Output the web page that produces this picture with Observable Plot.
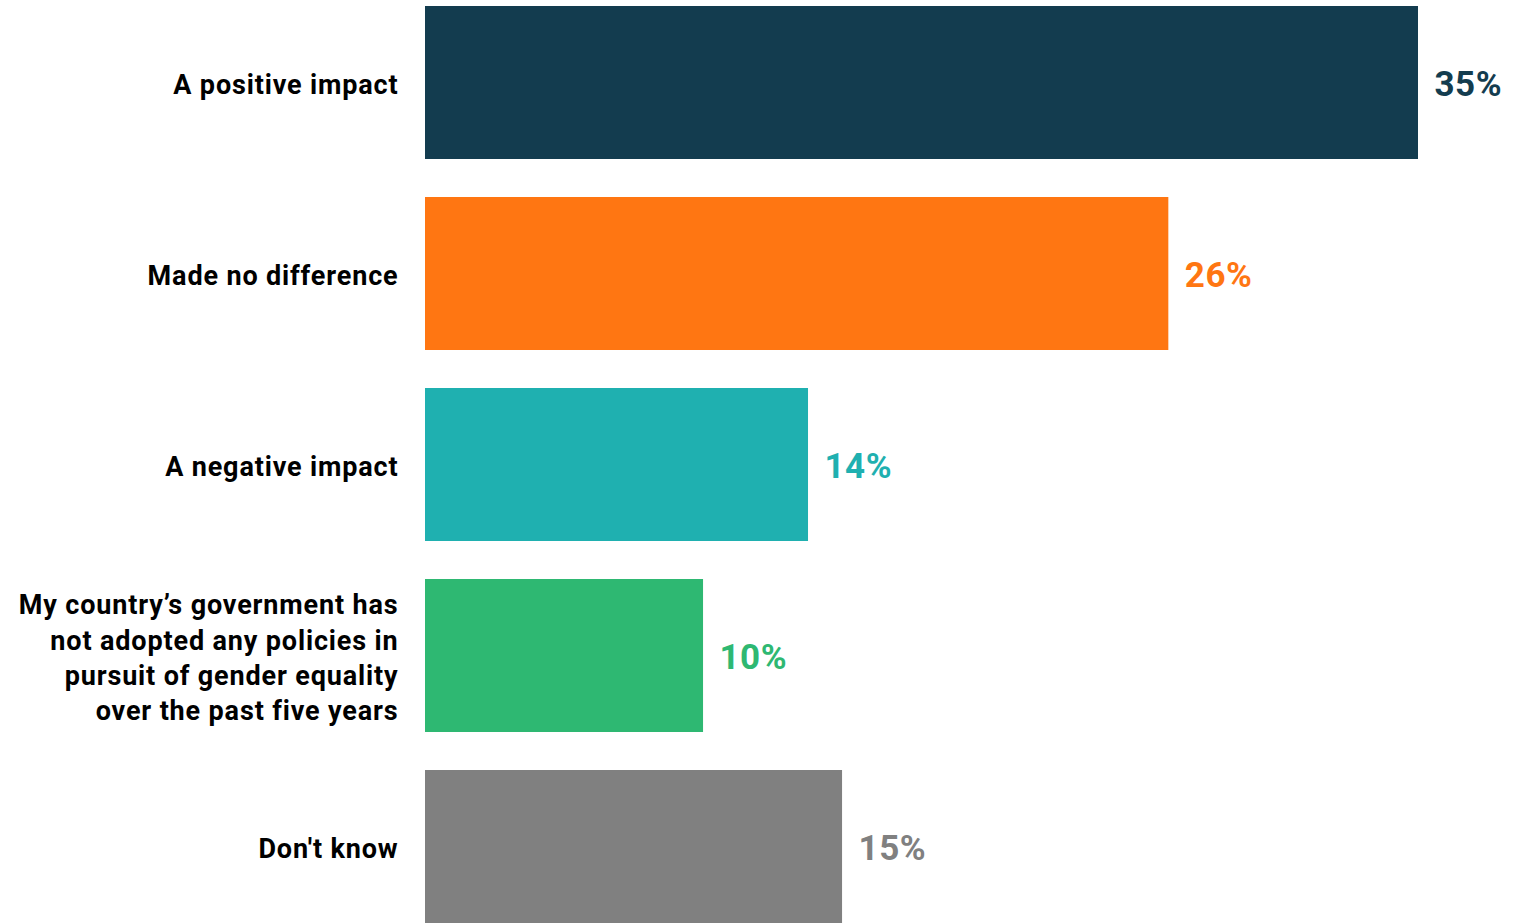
<!DOCTYPE html>
<html>
<head>
<meta charset="utf-8">
<script src="https://cdn.jsdelivr.net/npm/d3@7"></script>
<script src="https://cdn.jsdelivr.net/npm/@observablehq/plot@0.6"></script>
<style>
  html, body { margin: 0; padding: 0; background: #ffffff; }
  #chart svg { display: block; }
  #chart svg g[aria-label="y-axis tick label"] text { letter-spacing: 0.85px; }
  #chart svg g[aria-label="text"] text { letter-spacing: 0.5px; }
</style>
</head>
<body>
<div id="chart"></div>
<script>
const categories = [
  "A positive impact",
  "Made no difference",
  "A negative impact",
  "My country’s government has\nnot adopted any policies in\npursuit of gender equality\nover the past five years",
  "Don't know"
];
const values = [35.0, 26.2, 13.5, 9.8, 14.7];
const valueLabels = ["35%", "26%", "14%", "10%", "15%"];
const colors = ["#133c4f", "#ff7612", "#1fb0b0", "#2eb872", "#808080"];

const data = categories.map((c, i) => ({category: c, value: values[i], label: valueLabels[i], color: colors[i]}));

const chart = Plot.plot({
  width: 1534,
  height: 923,
  marginLeft: 425,
  marginRight: 116,
  marginTop: 5,
  marginBottom: 0,
  style: {fontFamily: "Roboto, sans-serif", background: "#ffffff"},
  x: {domain: [0, 35], axis: null},
  y: {domain: categories, paddingInner: 0.2, paddingOuter: 0, label: null},
  color: {domain: categories, range: colors},
  marks: [
    Plot.barX(data, {y: "category", x: "value", fill: "category"}),
    Plot.text(data, {
      y: "category", x: "value", text: "label", fill: "category",
      textAnchor: "start", dx: 16, dy: 2,
      fontSize: 35, fontWeight: 700
    }),
    Plot.axisY({
      tickSize: 0, tickPadding: 27, fontSize: 27, fontWeight: 700,
      fill: "#000000", lineHeight: 1.31, label: null
    })
  ]
});
document.getElementById("chart").appendChild(chart);
</script>
</body>
</html>
